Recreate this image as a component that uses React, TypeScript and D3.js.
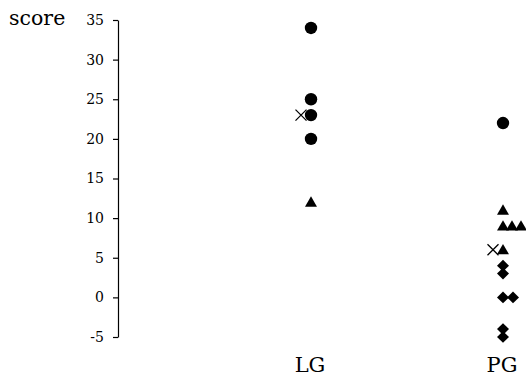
import { useEffect, useRef } from 'react';
import * as d3 from 'd3';

const categories = ['LG', 'PG'];
const yTicks = [-5, 0, 5, 10, 15, 20, 25, 30, 35];

// individual scores, by marker type
const circleScores = [
  { group: 'LG', value: 34 },
  { group: 'LG', value: 25 },
  { group: 'LG', value: 23 },
  { group: 'LG', value: 20 },
  { group: 'PG', value: 22 },
];
const triangleScores = [
  { group: 'LG', value: 12 },
  { group: 'PG', value: 11 },
  { group: 'PG', value: 9 },
  { group: 'PG', value: 9 },
  { group: 'PG', value: 9 },
  { group: 'PG', value: 6 },
];
const diamondScores = [
  { group: 'PG', value: 4 },
  { group: 'PG', value: 3 },
  { group: 'PG', value: 0 },
  { group: 'PG', value: 0 },
  { group: 'PG', value: -4 },
  { group: 'PG', value: -5 },
];
const means = [
  { group: 'LG', value: 23 },
  { group: 'PG', value: 6 },
];

const W = 526;
const H = 378;
const FONT = '"DejaVu Serif", serif';

type Pt = { group: string; value: number };

// index of repeated values within a group, so ties sit side by side
const stackIndex = (rows: Pt[]) => {
  const seen: Record<string, number> = {};
  return rows.map(r => {
    const k = r.group + ':' + r.value;
    const i = seen[k] || 0;
    seen[k] = i + 1;
    return i;
  });
};

export default function App() {
  const svgRef = useRef<SVGSVGElement>(null);

  useEffect(() => {
    if (!svgRef.current) return;
    const svg = d3.select(svgRef.current);
    svg.selectAll('*').remove();

    const x = d3.scalePoint<string>().domain(categories).range([311, 503]);
    const y = d3.scaleLinear().domain([-5, 35]).range([337, 20]);

    const axis = svg.append('g')
      .attr('transform', 'translate(118,0)')
      .call(
        d3.axisLeft(y)
          .tickValues(yTicks)
          .tickFormat(d => String(d))
          .tickSize(5)
          .tickSizeOuter(0)
          .tickPadding(9)
      );
    axis.select('.domain').attr('stroke', '#000').attr('stroke-width', 1.2);
    axis.selectAll('.tick line').attr('stroke', '#000').attr('stroke-width', 1.2);
    axis.selectAll('.tick text')
      .attr('font-family', FONT)
      .attr('font-size', 14)
      .attr('fill', '#000');

    svg.append('text')
      .attr('x', 9)
      .attr('y', 25)
      .attr('font-family', FONT)
      .attr('font-size', 20.5)
      .text('score');

    svg.selectAll('.cat')
      .data(categories)
      .enter()
      .append('text')
      .attr('x', d => x(d)! - 1)
      .attr('y', 372)
      .attr('text-anchor', 'middle')
      .attr('font-family', FONT)
      .attr('font-size', 21)
      .text(d => d);

    const marks = svg.append('g');

    marks.selectAll('circle')
      .data(circleScores)
      .enter()
      .append('circle')
      .attr('cx', d => x(d.group)!)
      .attr('cy', d => y(d.value))
      .attr('r', 6.2)
      .attr('fill', '#000');

    const triIdx = stackIndex(triangleScores);
    const tri = d3.symbol().type(d3.symbolTriangle).size(62)();
    marks.selectAll('.tri')
      .data(triangleScores)
      .enter()
      .append('path')
      .attr('d', tri)
      .attr('transform', (d, i) => `translate(${x(d.group)! + triIdx[i] * 9},${y(d.value) + 1})`)
      .attr('fill', '#000');

    const diaIdx = stackIndex(diamondScores);
    const dia = 'M0,-5.8L6,0L0,5.8L-6,0Z';
    marks.selectAll('.dia')
      .data(diamondScores)
      .enter()
      .append('path')
      .attr('d', dia)
      .attr('transform', (d, i) => `translate(${x(d.group)! + diaIdx[i] * 10},${y(d.value)})`)
      .attr('fill', '#000');

    const cross = marks.selectAll('.mean')
      .data(means)
      .enter()
      .append('g')
      .attr('transform', d => `translate(${x(d.group)! - 10},${y(d.value)})`);
    cross.append('path')
      .attr('d', 'M-5.5,-5.5L5.5,5.5M-5.5,5.5L5.5,-5.5')
      .attr('stroke', '#000')
      .attr('stroke-width', 1.3)
      .attr('fill', 'none');
  }, []);

  return (
    <svg
      ref={svgRef}
      width={W}
      height={H}
      style={{ position: 'absolute', left: 0, top: 0, background: '#fff' }}
    />
  );
}
